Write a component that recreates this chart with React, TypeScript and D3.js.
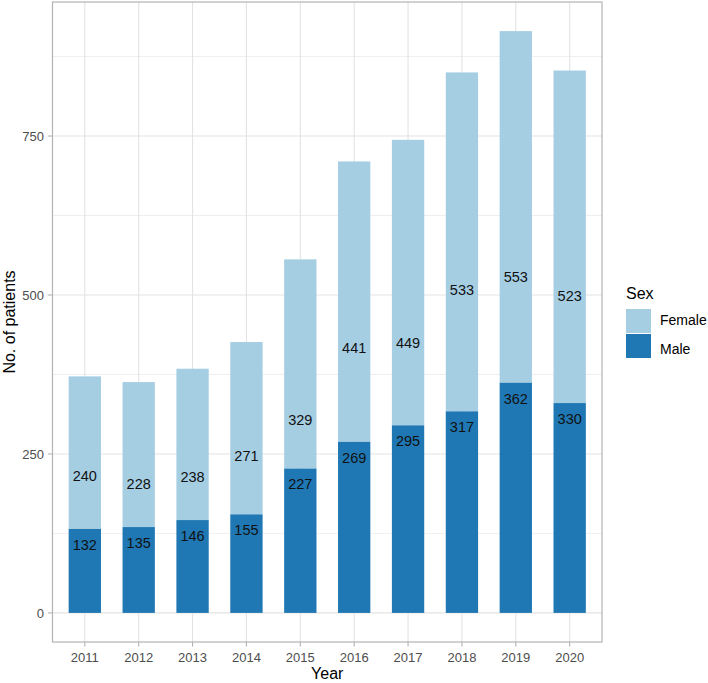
import React from "react";
import * as d3 from "d3";

const years = ["2011", "2012", "2013", "2014", "2015", "2016", "2017", "2018", "2019", "2020"];
const male = [132, 135, 146, 155, 227, 269, 295, 317, 362, 330];
const female = [240, 228, 238, 271, 329, 441, 449, 533, 553, 523];
const yTicks = [0, 250, 500, 750];
const yMinor = [125, 375, 625, 875];
const legendLabels = ["Female", "Male"];
const colors = { Female: "#A6CEE3", Male: "#1F78B4" };

const W = 708;
const H = 683;
const panel = { left: 52.5, right: 602, top: 2, bottom: 642 };
const font = "'Liberation Sans', Arial, sans-serif";

export default function App() {
  const totals = years.map((_, i) => male[i] + female[i]);
  const maxT = d3.max(totals) as number;
  const pad = maxT * 0.05;
  const y = d3.scaleLinear().domain([-pad, maxT + pad]).range([panel.bottom, panel.top]);
  const x = d3.scaleLinear().domain([0.4, years.length + 0.6]).range([panel.left, panel.right]);
  const bw = x(0.6) - x(0);

  return (
    <svg width={W} height={H} style={{ position: "absolute", left: 0, top: 0, background: "#fff" }} fontFamily={font}>
      <rect x={0} y={0} width={W} height={H} fill="#fff" />
      {/* grid */}
      {yMinor.map((v) => (
        <line key={"mn" + v} x1={panel.left} x2={panel.right} y1={y(v)} y2={y(v)} stroke="#EBEBEB" strokeWidth={0.8} />
      ))}
      {yTicks.map((v) => (
        <line key={"mj" + v} x1={panel.left} x2={panel.right} y1={y(v)} y2={y(v)} stroke="#E3E3E3" strokeWidth={1.1} />
      ))}
      {years.map((yr, i) => (
        <line key={"vx" + yr} x1={x(i + 1)} x2={x(i + 1)} y1={panel.top} y2={panel.bottom} stroke="#E3E3E3" strokeWidth={1.1} />
      ))}
      {/* bars */}
      {years.map((yr, i) => (
        <g key={"b" + yr}>
          <rect x={x(i + 1) - bw / 2} width={bw} y={y(male[i] + female[i])} height={y(male[i]) - y(male[i] + female[i])} fill={colors.Female} />
          <rect x={x(i + 1) - bw / 2} width={bw} y={y(male[i])} height={y(0) - y(male[i])} fill={colors.Male} />
        </g>
      ))}
      {/* labels */}
      {years.map((yr, i) => (
        <g key={"l" + yr} fontSize={14.5} fill="#111" textAnchor="middle">
          <text x={x(i + 1)} y={y(female[i]) + 20.8}>{female[i]}</text>
          <text x={x(i + 1)} y={y(male[i]) + 20.8}>{male[i]}</text>
        </g>
      ))}
      {/* border */}
      <rect x={panel.left} y={panel.top} width={panel.right - panel.left} height={panel.bottom - panel.top} fill="none" stroke="#B3B3B3" strokeWidth={1.2} />
      {/* y axis */}
      {yTicks.map((v) => (
        <g key={"yt" + v}>
          <line x1={panel.left - 4.5} x2={panel.left} y1={y(v)} y2={y(v)} stroke="#B3B3B3" strokeWidth={1.1} />
          <text x={panel.left - 8.5} y={y(v) + 4.7} textAnchor="end" fontSize={13} fill="#4D4D4D">{v}</text>
        </g>
      ))}
      {/* x axis */}
      {years.map((yr, i) => (
        <g key={"xt" + yr}>
          <line x1={x(i + 1)} x2={x(i + 1)} y1={panel.bottom} y2={panel.bottom + 4.5} stroke="#B3B3B3" strokeWidth={1.1} />
          <text x={x(i + 1)} y={panel.bottom + 20} textAnchor="middle" fontSize={13} fill="#4D4D4D">{yr}</text>
        </g>
      ))}
      <text x={(panel.left + panel.right) / 2} y={679} textAnchor="middle" fontSize={16} fill="#000">Year</text>
      <text transform={`translate(14.5,${(panel.top + panel.bottom) / 2}) rotate(-90)`} textAnchor="middle" fontSize={16} fill="#000">No. of patients</text>
      {/* legend */}
      <text x={626} y={299} fontSize={16} fill="#000">Sex</text>
      {legendLabels.map((lab, i) => (
        <g key={"lg" + lab}>
          <rect x={626} y={309 + i * 25} width={25} height={24} fill={colors[lab as "Female" | "Male"]} />
          <text x={660} y={325 + i * 29} fontSize={14} fill="#000">{lab}</text>
        </g>
      ))}
    </svg>
  );
}
